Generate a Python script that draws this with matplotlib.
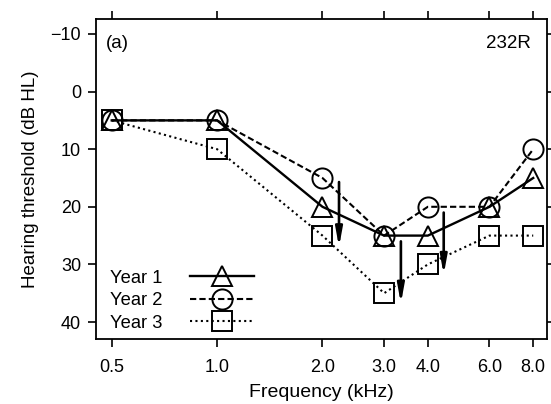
import numpy as np
import matplotlib
matplotlib.use('Agg')
import matplotlib.pyplot as plt

plt.rcParams['font.family'] = ['Liberation Sans', 'DejaVu Sans']

freq = [0.5, 1.0, 2.0, 3.0, 4.0, 6.0, 8.0]
freq_labels = ['0.5', '1.0', '2.0', '3.0', '4.0', '6.0', '8.0']
year1 = [5, 5, 20, 25, 25, 20, 15]
year2 = [5, 5, 15, 25, 20, 20, 10]
year3 = [5, 10, 25, 35, 30, 25, 25]

# arrows: (freq, start dB, end dB)
arrow_x = [2.23, 3.35, 4.44]
arrow_top = [15.7, 26.0, 21.0]
arrow_bot = [27.0, 36.8, 31.8]

fig = plt.figure(figsize=(5.51, 4.04), dpi=100)
ax = fig.add_axes([95.7/551, 1-339/404, 450.8/551, 320/404])

ms = 14.5
ax.plot(freq, year1, color='black', lw=1.7, ls='-', marker='^', ms=ms,
        mfc='none', mew=1.4, label='Year 1')
ax.plot(freq, year2, color='black', lw=1.5, ls=(0, (3, 1.5)), marker='o', ms=ms,
        mfc='none', mew=1.4, label='Year 2')
ax.plot(freq, year3, color='black', lw=1.5, ls=(0, (1, 1.6)), marker='s', ms=ms,
        mfc='none', mew=1.4, label='Year 3')

for x, y0, y1 in zip(arrow_x, arrow_top, arrow_bot):
    ax.annotate('', xy=(x, y1), xytext=(x, y0),
                arrowprops=dict(arrowstyle='-|>,head_length=1.1,head_width=0.2',
                                color='black', lw=1.9, shrinkA=0, shrinkB=0))

ax.set_xscale('log')
ax.set_xlim(0.45, 8.73)
ax.set_ylim(42.95, -12.6)
ax.set_xticks(freq)
ax.set_xticklabels(freq_labels)
ax.minorticks_off()
ax.set_yticks([-10, 0, 10, 20, 30, 40])
ax.set_yticklabels(['\u221210', '0', '10', '20', '30', '40'])
ax.tick_params(direction='out', length=5.5, width=1.2, labelsize=13,
               top=True, right=True)
ax.tick_params(axis='x', pad=9)
ax.tick_params(axis='y', pad=5)
for s in ax.spines.values():
    s.set_linewidth(1.3)

ax.set_xlabel('Frequency (kHz)', fontsize=14, labelpad=6)
ax.set_ylabel('Hearing threshold (dB HL)', fontsize=13.5, labelpad=8)

ax.text(0.022, 0.95, '(a)', transform=ax.transAxes, fontsize=13.5, va='top', ha='left')
ax.text(0.965, 0.95, '232R', transform=ax.transAxes, fontsize=13.5, va='top', ha='right')

ax.legend(loc='lower left', frameon=False, markerfirst=False, fontsize=13.2,
          handlelength=3.5, handletextpad=1.5, labelspacing=0.3,
          borderaxespad=0.0, bbox_to_anchor=(0.015, 0.0))

fig.savefig('out.png', dpi=100)
